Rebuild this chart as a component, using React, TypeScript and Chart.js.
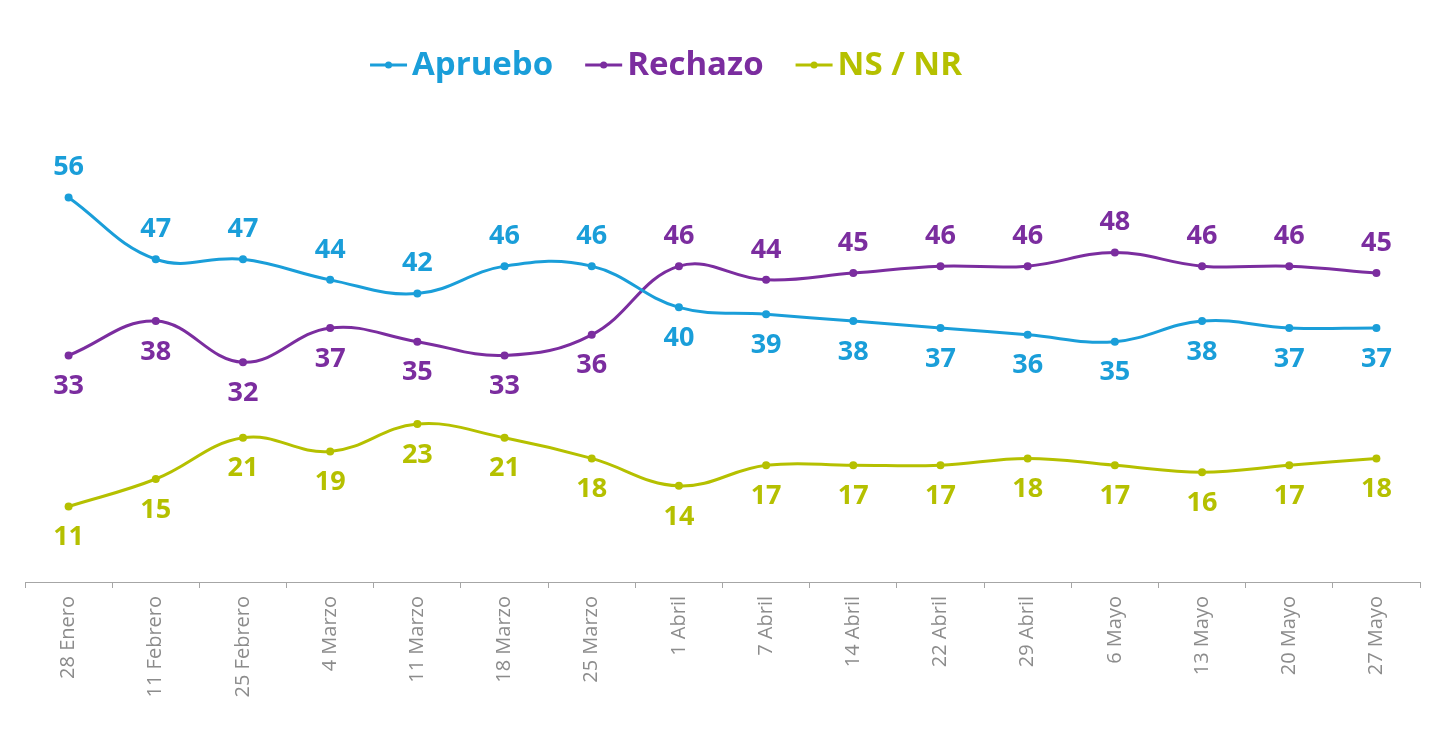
import React, { useEffect, useRef } from "react";
import { Chart, registerables } from "chart.js";
Chart.register(...registerables);

const categories = [
  "28 Enero", "11 Febrero", "25 Febrero", "4 Marzo", "11 Marzo", "18 Marzo", "25 Marzo",
  "1 Abril", "7 Abril", "14 Abril", "22 Abril", "29 Abril", "6 Mayo", "13 Mayo", "20 Mayo", "27 Mayo",
];
const apruebo = [56, 47, 47, 44, 42, 46, 46, 40, 39, 38, 37, 36, 35, 38, 37, 37];
const rechazo = [33, 38, 32, 37, 35, 33, 36, 46, 44, 45, 46, 46, 48, 46, 46, 45];
const nsnr = [11, 15, 21, 19, 23, 21, 18, 14, 17, 17, 17, 18, 17, 16, 17, 18];

const aprueboLabelPos = ["up", "up", "up", "up", "up", "up", "up", "down", "down", "down", "down", "down", "down", "down", "down", "down"];
const rechazoLabelPos = ["down", "down", "down", "down", "down", "down", "down", "up", "up", "up", "up", "up", "up", "up", "up", "up"];
const nsnrLabelPos = categories.map(() => "down");

const seriesNames = ["Apruebo", "Rechazo", "NS / NR"];
const seriesColors = ["#1a9ed9", "#7b2d9f", "#b5c000"];

const FONT = "'Open Sans', 'Noto Sans', sans-serif";

const labelPlugin = {
  id: "valueLabels",
  afterDatasetsDraw(chart: any) {
    const ctx = chart.ctx;
    const positions = [aprueboLabelPos, rechazoLabelPos, nsnrLabelPos];
    ctx.save();
    ctx.font = `bold 27px ${FONT}`;
    ctx.textAlign = "center";
    ctx.textBaseline = "middle";
    chart.data.datasets.forEach((ds: any, di: number) => {
      const meta = chart.getDatasetMeta(di);
      ctx.fillStyle = ds.borderColor;
      meta.data.forEach((pt: any, i: number) => {
        const off = positions[di][i] === "up" ? -30 : 31;
        ctx.fillText(String(ds.data[i]), pt.x, pt.y + off);
      });
    });
    ctx.restore();
  },
};

const legendPlugin = {
  id: "customLegend",
  afterDraw(chart: any) {
    const ctx = chart.ctx;
    ctx.save();
    ctx.font = `bold 33px ${FONT}`;
    ctx.textBaseline = "middle";
    const markerW = 37;
    const gapMT = 5;
    const gapItems = 32;
    const widths = seriesNames.map((n) => ctx.measureText(n).width);
    const total = widths.reduce((a, w) => a + markerW + gapMT + w, 0) + gapItems * (seriesNames.length - 1);
    let x = 666 - total / 2;
    const y = 65;
    seriesNames.forEach((name, i) => {
      ctx.strokeStyle = seriesColors[i];
      ctx.fillStyle = seriesColors[i];
      ctx.lineWidth = 3;
      ctx.beginPath();
      ctx.moveTo(x, y);
      ctx.lineTo(x + markerW, y);
      ctx.stroke();
      ctx.beginPath();
      ctx.arc(x + markerW / 2, y, 3.5, 0, Math.PI * 2);
      ctx.fill();
      ctx.fillText(name, x + markerW + gapMT, y + 1);
      x += markerW + gapMT + widths[i] + gapItems;
    });
    ctx.restore();
  },
};

export default function App() {
  const ref = useRef<HTMLCanvasElement | null>(null);
  useEffect(() => {
    if (!ref.current) return;
    const mk = (label: string, data: number[], color: string) => ({
      label,
      data,
      borderColor: color,
      backgroundColor: color,
      borderWidth: 3,
      pointRadius: 4,
      pointBackgroundColor: color,
      pointBorderWidth: 0,
      tension: 0.4,
      fill: false,
    });
    const chart = new Chart(ref.current, {
      type: "line",
      data: {
        labels: categories,
        datasets: [
          mk(seriesNames[0], apruebo, seriesColors[0]),
          mk(seriesNames[1], rechazo, seriesColors[1]),
          mk(seriesNames[2], nsnr, seriesColors[2]),
        ],
      },
      options: {
        animation: false,
        responsive: true,
        maintainAspectRatio: false,
        layout: { padding: { top: 170, left: 25, right: 18, bottom: 0 } },
        plugins: { legend: { display: false }, tooltip: { enabled: false } },
        scales: {
          x: {
            offset: true,
            afterFit: (scale: any) => {
              scale.height = 170;
            },
            grid: {
              display: true,
              drawOnChartArea: false,
              drawTicks: true,
              tickLength: 6,
              offset: true,
              color: "#a6a6a6",
            },
            border: { display: true, color: "#a6a6a6", width: 1 },
            ticks: {
              minRotation: 90,
              maxRotation: 90,
              padding: 8,
              color: "#8c8c8c",
              font: { family: FONT, size: 20, weight: "normal" },
              autoSkip: false,
            },
          },
          y: { display: false, min: 0, max: 60 },
        },
      },
      plugins: [labelPlugin, legendPlugin],
    } as any);
    return () => chart.destroy();
  }, []);
  return (
    <div style={{ position: "fixed", left: 0, top: 0, width: "1438px", height: "752px", background: "#fff" }}>
      <canvas ref={ref} />
    </div>
  );
}
